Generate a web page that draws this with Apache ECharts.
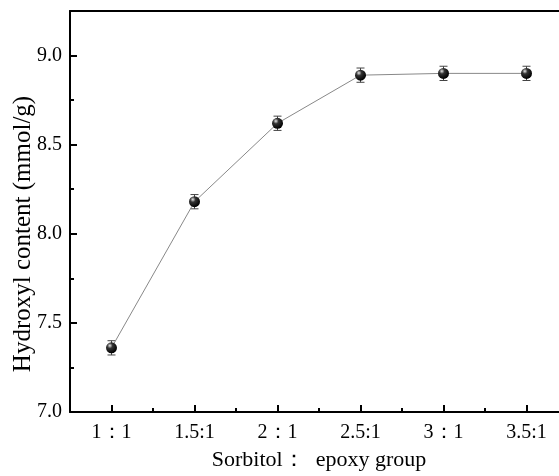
<!DOCTYPE html>
<html><head><meta charset="utf-8">
<script src="https://cdn.jsdelivr.net/npm/echarts@6/dist/echarts.min.js"></script>
<style>html,body{margin:0;padding:0;background:#fff}#c{width:559px;height:476px}</style>
</head><body><div id="c"></div>
<script>
var categories = ['1：1', '1.5:1', '2：1', '2.5:1', '3：1', '3.5:1'];
var values = [7.36, 8.18, 8.62, 8.89, 8.90, 8.90];
var errors = [0.04, 0.04, 0.04, 0.04, 0.04, 0.04];
var yTicks = [7.0, 7.5, 8.0, 8.5, 9.0];

var chart = echarts.init(document.getElementById('c'));
var font = '"Liberation Serif","Times New Roman",serif';
var errData = categories.map(function (c, i) { return [i, values[i] - errors[i], values[i] + errors[i]]; });
var ball = new echarts.graphic.RadialGradient(0.35, 0.3, 0.7, [
  {offset: 0, color: '#e8e8e8'}, {offset: 0.35, color: '#333'}, {offset: 1, color: '#000'}
]);
chart.setOption({
  animation: false,
  grid: {left: 70, right: -9, top: 11, bottom: 64, containLabel: false, outerBoundsMode: 'none'},
  graphic: [{
    type: 'text', x: 23, y: 234, rotation: Math.PI / 2,
    style: {text: 'Hydroxyl content (mmol/g)', font: '25px "Liberation Serif", serif', fill: '#000',
      align: 'center', verticalAlign: 'middle'}
  }],
  xAxis: [{
    type: 'category', data: categories, boundaryGap: true,
    name: 'Sorbitol：  epoxy group', nameLocation: 'middle', nameGap: 37,
    nameTextStyle: {fontFamily: font, fontSize: 22, color: '#000'},
    axisLine: {lineStyle: {color: '#000', width: 2}},
    axisTick: {show: true, alignWithLabel: true, inside: true, length: 7, lineStyle: {color: '#000', width: 2}},
    axisLabel: {fontFamily: font, fontSize: 20, color: '#000', margin: 11},
    splitLine: {show: false}
  }, {
    type: 'category', data: categories, boundaryGap: true, position: 'bottom',
    axisLine: {show: false},
    axisTick: {show: true, inside: true, length: 4, lineStyle: {color: '#000', width: 2}},
    axisLabel: {show: false}, splitLine: {show: false}
  }, {
    type: 'category', data: categories, position: 'top',
    axisLine: {lineStyle: {color: '#000', width: 2}},
    axisTick: {show: false}, axisLabel: {show: false}, splitLine: {show: false}
  }],
  yAxis: {
    type: 'value', min: 7, max: 9.25, interval: 0.5,
    axisLine: {show: true, lineStyle: {color: '#000', width: 2}},
    axisTick: {show: true, inside: true, length: 7, lineStyle: {color: '#000', width: 2}},
    minorTick: {show: true, splitNumber: 2, length: 4, lineStyle: {color: '#000', width: 2}},
    axisLabel: {fontFamily: font, fontSize: 20, color: '#000', margin: 8,
      formatter: function (v) { return yTicks.indexOf(Math.round(v * 100) / 100) >= 0 ? v.toFixed(1) : ''; }},
    splitLine: {show: false}
  },
  series: [{
    type: 'line', data: values, xAxisIndex: 0,
    lineStyle: {color: '#888', width: 1},
    symbol: 'circle', symbolSize: 11,
    itemStyle: {color: ball, borderWidth: 0}, z: 3
  }, {
    type: 'custom', xAxisIndex: 0, data: errData, z: 2,
    renderItem: function (params, api) {
      var x = api.value(0);
      var lo = api.coord([x, api.value(1)]);
      var hi = api.coord([x, api.value(2)]);
      var w = 4;
      var st = {stroke: '#444', lineWidth: 1};
      return {type: 'group', children: [
        {type: 'line', shape: {x1: lo[0], y1: lo[1], x2: hi[0], y2: hi[1]}, style: st},
        {type: 'line', shape: {x1: lo[0] - w, y1: lo[1], x2: lo[0] + w, y2: lo[1]}, style: st},
        {type: 'line', shape: {x1: hi[0] - w, y1: hi[1], x2: hi[0] + w, y2: hi[1]}, style: st}
      ]};
    }
  }]
});
</script></body></html>
